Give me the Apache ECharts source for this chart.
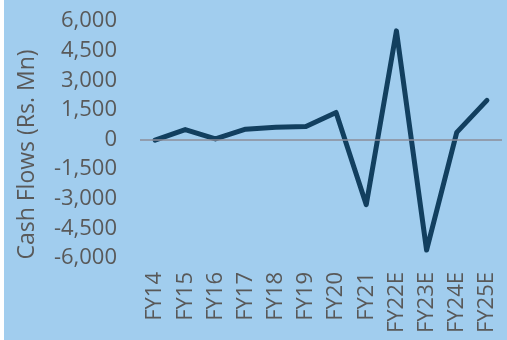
<!DOCTYPE html>
<html>
<head>
<meta charset="utf-8">
<script src="https://cdn.jsdelivr.net/npm/echarts@6/dist/echarts.min.js"></script>
<style>
    html, body { margin: 0; padding: 0; background: #ffffff; }
    #main { position: absolute; left: 4px; top: 0; width: 503px; height: 340px; }
</style>
</head>
<body>
<div id="main"></div>
<script>
// 年度 & 现金流数据
const years = ['FY14', 'FY15', 'FY16', 'FY17', 'FY18', 'FY19', 'FY20', 'FY21', 'FY22E', 'FY23E', 'FY24E', 'FY25E'];
const cashFlows = [-30, 500, 30, 520, 620, 660, 1370, -3300, 5500, -5600, 360, 1980];
const yTicks = { min: -6000, max: 6000, step: 1500 };

const myChart = echarts.init(document.getElementById('main'));
const font = '"Open Sans", sans-serif';

const option = {
    backgroundColor: '#a1cdee',
    animation: false,
    grid: { left: 136, right: 5, top: 21, bottom: 82 },
    xAxis: {
        type: 'category',
        data: years,
        axisLine: { show: false, onZero: false },
        axisTick: { show: false },
        axisLabel: {
            rotate: 90,
            margin: 14,
            color: '#595959',
            fontFamily: font,
            fontSize: 22,
            interval: 0
        }
    },
    yAxis: {
        type: 'value',
        min: yTicks.min,
        max: yTicks.max,
        interval: yTicks.step,
        name: 'Cash Flows (Rs. Mn)',
        nameLocation: 'middle',
        nameGap: 101,
        nameTextStyle: { color: '#595959', fontFamily: font, fontSize: 23, padding: [0, 30, 0, 0] },
        splitLine: { show: false },
        axisLine: { show: false },
        axisTick: { show: false },
        axisLabel: {
            margin: 23,
            color: '#595959',
            fontFamily: font,
            fontSize: 22,
            formatter: v => v.toLocaleString('en-US')
        }
    },
    series: [
        {
            type: 'line',
            data: cashFlows,
            symbol: 'none',
            lineStyle: { color: '#123f5f', width: 5, cap: 'round', join: 'round' },
            markLine: {
                silent: true,
                symbol: 'none',
                label: { show: false },
                lineStyle: { color: '#8c8c99', width: 1.5, type: 'solid' },
                data: [{ yAxis: 0 }]
            },
            z: 3
        }
    ]
};
myChart.setOption(option);
</script>
</body>
</html>
